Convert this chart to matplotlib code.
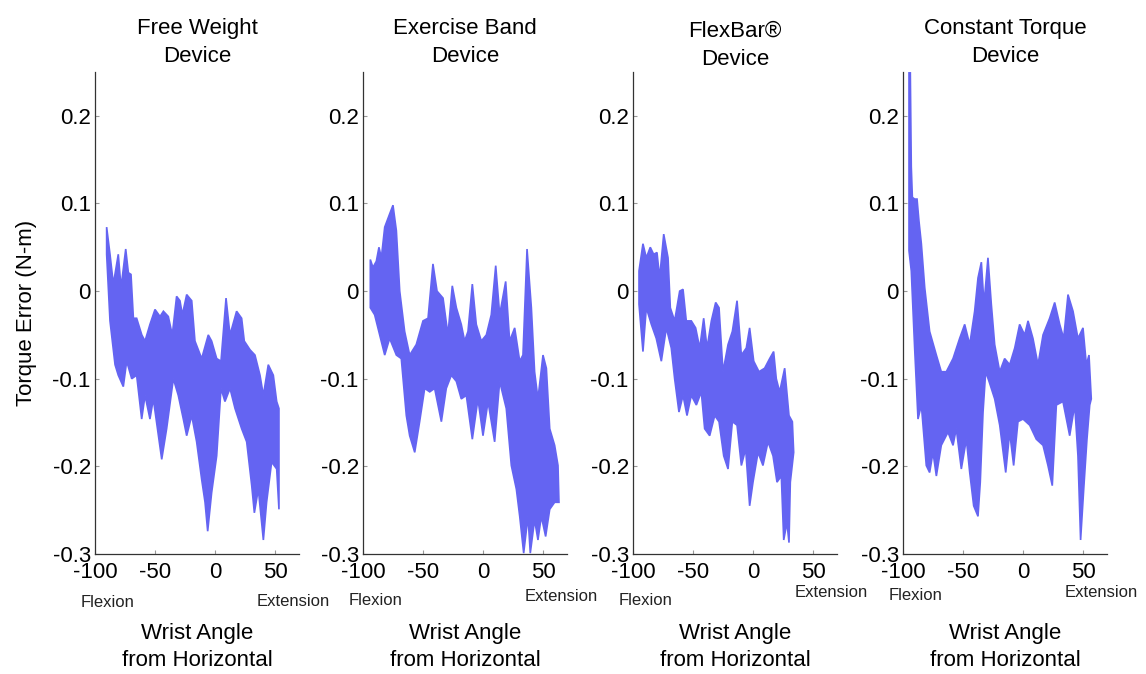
import numpy as np
import matplotlib.pyplot as plt

plt.rcParams.update({
    'font.family': ['Liberation Sans', 'DejaVu Sans'],
    'font.size': 16,
    'axes.linewidth': 0.9,
})

BAND_COLOR = '#6464F2'
SPINE_COLOR = '#333333'
TICK_COLOR = '#999999'

TITLES = ['Free Weight\nDevice', 'Exercise Band\nDevice', 'FlexBar\u00ae\nDevice', 'Constant Torque\nDevice']
X_TICKS = [-100, -50, 0, 50]
X_TICK_LABELS = ['-100', '-50', '0', '50']
Y_TICKS = [-0.3, -0.2, -0.1, 0, 0.1, 0.2]
Y_TICK_LABELS = ['-0.3', '-0.2', '-0.1', '0', '0.1', '0.2']

# ---- envelope of the torque error band (upper / lower edge), per device ----
# Free weight
fw_up_x = [-90.3, -87.5, -84.7, -80.6, -78.3, -74.4, -72.2, -70, -68, -65.3, -61, -58.3, -54.2, -50, -45.8,
           -43, -38.9, -35.6, -32, -29.2, -27.2, -23.6, -19.4, -16.7, -11.1, -5.6, -2.8, 1.4, 5, 9.2, 12.5,
           18, 22.2, 24.4, 29.2, 33.3, 37.5, 40.3, 44.4, 48.6, 51.4, 53.3]
fw_up_y = [0.073, 0.042, 0.008, 0.042, 0.004, 0.048, 0.021, 0.019, -0.031, -0.031, -0.05, -0.057, -0.038,
           -0.021, -0.029, -0.023, -0.029, -0.05, -0.006, -0.011, -0.027, -0.004, -0.011, -0.057, -0.077,
           -0.05, -0.057, -0.077, -0.08, -0.008, -0.05, -0.023, -0.031, -0.057, -0.067, -0.073, -0.096,
           -0.119, -0.084, -0.096, -0.126, -0.134]
fw_lo_x = [-90.3, -87.5, -83.3, -80.6, -76.4, -73.6, -69.4, -65.3, -61.1, -58.3, -54.2, -51.4, -44.4, -40.3,
           -34.7, -30.6, -26.4, -23.6, -19.4, -15.3, -11.1, -8.3, -6.1, -2.8, 1.4, 5, 8.3, 12.5, 16.7, 22.2,
           26.4, 30.6, 32.8, 36.1, 40.3, 43, 47.2, 51.4, 53.3]
fw_lo_y = [0.042, -0.034, -0.084, -0.096, -0.109, -0.08, -0.1, -0.096, -0.146, -0.119, -0.146, -0.123, -0.192,
           -0.157, -0.1, -0.119, -0.146, -0.165, -0.142, -0.172, -0.215, -0.241, -0.274, -0.23, -0.188, -0.111,
           -0.126, -0.111, -0.134, -0.157, -0.172, -0.222, -0.253, -0.226, -0.284, -0.241, -0.195, -0.203,
           -0.249]

# Exercise band
eb_up_x = [-93.9, -91.7, -88.9, -86.7, -84.7, -81.9, -77.8, -75, -72.2, -69.4, -65.3, -61.1, -55.6, -50,
           -45.8, -41.7, -38.3, -33.3, -29.2, -25.6, -22.2, -18.1, -15.3, -12.5, -8.9, -5.6, -1.4, 2.8, 6.9,
           10.6, 13.9, 18.9, 22.2, 26.4, 30.6, 33.3, 36.7, 40.3, 43, 45.8, 50, 52.8, 55.6, 59.7, 62.5, 63.3]
eb_up_y = [0.036, 0.027, 0.034, 0.05, 0.038, 0.073, 0.088, 0.098, 0.069, 0.0, -0.046, -0.073, -0.061, -0.034,
           -0.031, 0.031, 0.0, -0.008, -0.05, 0.006, -0.019, -0.038, -0.057, -0.046, 0.008, -0.038, -0.057,
           -0.05, -0.027, 0.029, -0.027, 0.011, -0.057, -0.042, -0.08, -0.073, 0.048, -0.019, -0.092, -0.123,
           -0.073, -0.088, -0.157, -0.176, -0.199, -0.241]
eb_lo_x = [-93.9, -90.3, -86.1, -81.9, -77.8, -72.2, -68.1, -63.9, -61.1, -56.9, -52.8, -48.6, -44.4, -40.3,
           -34.7, -30.6, -26.4, -22.2, -18.1, -13.9, -8.9, -4.2, 0, 4.2, 9.7, 13.9, 19.4, 23.6, 27.8, 30.6,
           33.9, 37.5, 39.4, 43, 45.8, 48.6, 52.2, 55.6, 59.7, 63.3]
eb_lo_y = [-0.019, -0.027, -0.05, -0.073, -0.054, -0.073, -0.077, -0.142, -0.165, -0.184, -0.149, -0.111,
           -0.115, -0.111, -0.149, -0.111, -0.096, -0.103, -0.123, -0.119, -0.169, -0.123, -0.165, -0.126,
           -0.172, -0.103, -0.134, -0.199, -0.226, -0.257, -0.299, -0.257, -0.299, -0.261, -0.284, -0.257,
           -0.28, -0.249, -0.241, -0.241]

# FlexBar
fb_up_x = [-95, -91.7, -88.9, -85.6, -82.8, -80, -77.8, -74.4, -70.8, -68.9, -65.3, -61.1, -58.3, -55.6,
           -51.4, -47.8, -44.4, -41.1, -38.3, -34.7, -31.1, -28.3, -25, -20.8, -17.2, -13.3, -9.7, -5.6, -2.8,
           0.6, 5, 9.7, 13.9, 17.2, 19.4, 22.2, 26.4, 30, 32.8, 33.9]
fb_up_y = [0.023, 0.054, 0.038, 0.05, 0.042, 0.044, 0.015, 0.065, 0.038, -0.019, -0.034, 0, 0.002, -0.034,
           -0.034, -0.042, -0.065, -0.031, -0.065, -0.034, -0.013, -0.019, -0.092, -0.061, -0.046, -0.011,
           -0.073, -0.065, -0.042, -0.08, -0.092, -0.088, -0.077, -0.069, -0.1, -0.115, -0.088, -0.142,
           -0.149, -0.184]
fb_lo_x = [-95, -91.7, -88.9, -84.7, -80.6, -76.4, -72.2, -68.1, -65.3, -61.7, -58.3, -55, -51.4, -47.2,
           -43.1, -40.3, -36.1, -31.9, -28.3, -24.4, -20.8, -17.2, -13.3, -9.7, -6.1, -2.8, 0, 4.2, 8.3, 12.5,
           16.7, 20, 23.6, 25.6, 28.3, 30, 31.1, 33.9]
fb_lo_y = [-0.015, -0.069, -0.019, -0.038, -0.054, -0.08, -0.042, -0.065, -0.1, -0.138, -0.119, -0.142,
           -0.119, -0.13, -0.115, -0.157, -0.165, -0.142, -0.149, -0.188, -0.203, -0.149, -0.153, -0.199,
           -0.18, -0.245, -0.218, -0.184, -0.199, -0.172, -0.188, -0.218, -0.211, -0.284, -0.264, -0.287,
           -0.218, -0.184]

# Constant torque
ct_up_x = [-95, -93.9, -93.1, -92.2, -90.3, -88.3, -86.7, -84.7, -81.9, -77.8, -72.2, -68.1, -63.9, -58.3,
           -52.8, -48.6, -44.4, -40.3, -37.5, -34.7, -32.5, -29.2, -26.4, -23.6, -19.4, -15.3, -11.1, -6.9,
           -2.8, 1.4, 4.2, 8.3, 12.5, 16.7, 22.2, 26.4, 30.6, 33.9, 37.5, 41.7, 45.8, 50, 52.8, 55, 56.9]
ct_up_y = [0.249, 0.249, 0.142, 0.107, 0.105, 0.105, 0.08, 0.054, 0.004, -0.046, -0.073, -0.092, -0.092,
           -0.077, -0.054, -0.038, -0.061, -0.023, 0.015, 0.033, -0.015, 0.038, -0.015, -0.061, -0.092,
           -0.077, -0.084, -0.065, -0.038, -0.05, -0.034, -0.054, -0.084, -0.05, -0.031, -0.013, -0.038,
           -0.054, -0.004, -0.023, -0.054, -0.042, -0.084, -0.073, -0.123]
ct_lo_x = [-95, -93.1, -90.3, -87.5, -84.7, -80.6, -77.8, -75, -72.2, -68.1, -62.5, -58.3, -55.6, -51.4,
           -47.2, -44.4, -41.1, -37.5, -35.6, -33.3, -31.1, -28.3, -23.6, -19.4, -14.4, -11.1, -7.8, -4.2, 0,
           5.6, 11.1, 16.7, 20.8, 24.4, 27.8, 33.3, 38.9, 43.1, 45.8, 48, 50.6, 53.3, 55.6, 56.9]
ct_lo_y = [0.046, 0.023, -0.065, -0.146, -0.13, -0.199, -0.207, -0.184, -0.211, -0.176, -0.161, -0.176,
           -0.157, -0.203, -0.169, -0.207, -0.245, -0.257, -0.218, -0.138, -0.092, -0.103, -0.123, -0.153,
           -0.207, -0.161, -0.199, -0.149, -0.146, -0.153, -0.169, -0.176, -0.199, -0.222, -0.13, -0.126,
           -0.165, -0.13, -0.188, -0.284, -0.226, -0.169, -0.13, -0.123]

BANDS = [
    (fw_up_x, fw_up_y, fw_lo_x, fw_lo_y),
    (eb_up_x, eb_up_y, eb_lo_x, eb_lo_y),
    (fb_up_x, fb_up_y, fb_lo_x, fb_lo_y),
    (ct_up_x, ct_up_y, ct_lo_x, ct_lo_y),
]

# layout in pixels (figure is 1146 x 674)
W, H = 1146, 674
AX_LEFT = [95, 363, 633, 903]
AX_W, AX_TOP, AX_BOT = 204, 72, 554
TITLE_Y = [0.062, 0.062, 0.056, 0.062]
FLEX_Y = [-0.100, -0.096, -0.096, -0.086]
EXT_Y = [-0.098, -0.088, -0.080, -0.080]

fig = plt.figure(figsize=(W / 100, H / 100), dpi=100)

for k, (ux, uy, lx, ly) in enumerate(BANDS):
    ax = fig.add_axes([AX_LEFT[k] / W, 1 - AX_BOT / H, AX_W / W, (AX_BOT - AX_TOP) / H])

    xs = np.concatenate([ux, lx[::-1]])
    ys = np.concatenate([uy, ly[::-1]])
    ax.fill(xs, ys, color=BAND_COLOR, lw=1.2, ec=BAND_COLOR, joinstyle='miter', zorder=2)

    ax.set_xlim(-100, 70)
    ax.set_ylim(-0.3, 0.25)
    ax.set_xticks(X_TICKS)
    ax.set_xticklabels(X_TICK_LABELS)
    ax.set_yticks(Y_TICKS)
    ax.set_yticklabels(Y_TICK_LABELS)
    ax.tick_params(direction='in', length=3, width=0.8, color=TICK_COLOR, labelsize=16)
    ax.tick_params(axis='x', pad=6)
    ax.tick_params(axis='y', pad=3)

    for side in ['top', 'right']:
        ax.spines[side].set_visible(False)
    for side in ['left', 'bottom']:
        ax.spines[side].set_color(SPINE_COLOR)

    ax.text(0.5, 1 + TITLE_Y[k], TITLES[k], transform=ax.transAxes,
            ha='center', va='center', fontsize=16, linespacing=1.45)
    ax.text(0.06, FLEX_Y[k], 'Flexion', transform=ax.transAxes,
            ha='center', va='center', fontsize=12, color='#222222')
    ax.text(0.97, EXT_Y[k], 'Extension', transform=ax.transAxes,
            ha='center', va='center', fontsize=12, color='#222222')
    ax.text(0.5, -0.193, 'Wrist Angle\nfrom Horizontal', transform=ax.transAxes,
            ha='center', va='center', fontsize=16, linespacing=1.4)

fig.text(27 / W, 1 - 313 / H, 'Torque Error (N-m)', rotation=90,
         ha='center', va='center', fontsize=16)

plt.savefig('out.png', dpi=100)
